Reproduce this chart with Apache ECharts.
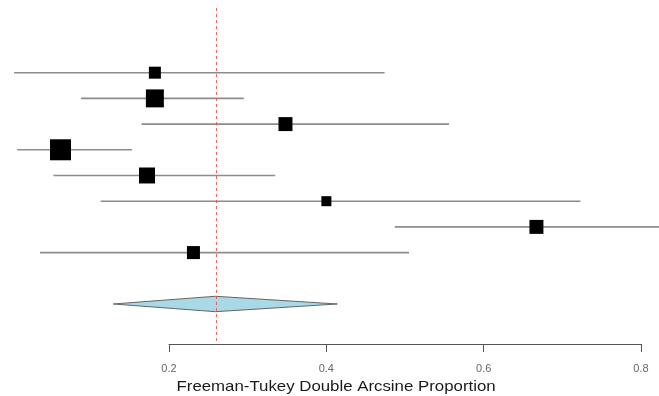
<!DOCTYPE html>
<html>
<head>
<meta charset="utf-8">
<script src="https://cdn.jsdelivr.net/npm/echarts@6/dist/echarts.min.js"></script>
<style>html,body{margin:0;padding:0;background:#fff;}#c{width:659px;height:396px;}</style>
</head>
<body>
<div id="c"></div>
<script>
// Study-level estimates (Freeman-Tukey double arcsine proportion)
const estimates = [0.182, 0.182, 0.348, 0.062, 0.172, 0.400, 0.667, 0.231];
const lowerCI   = [0.003, 0.088, 0.165, 0.007, 0.053, 0.113, 0.487, 0.036];
const upperCI   = [0.474, 0.295, 0.556, 0.153, 0.335, 0.723, 0.860, 0.505];
const weights   = [7.9, 17.7, 10.7, 24.2, 14.0, 5.5, 10.7, 9.3];
// Pooled estimate
const pooled = [0.259];
const pooledLower = [0.129];
const pooledUpper = [0.414];
const tickValues = [0.2, 0.4, 0.6, 0.8];
const axisTitle = 'Freeman-Tukey Double Arcsine Proportion';

const rows = estimates.map((e, i) => i);
const diamondRow = estimates.length + 1;

const ciData = rows.map(i => [lowerCI[i], upperCI[i], i]);
const sqData = rows.map(i => ({ value: [estimates[i], i], symbolSize: Math.sqrt(weights[i]) * 4.27 }));
const diamondData = [[pooledLower[0], pooled[0], pooledUpper[0], diamondRow]];

const chart = echarts.init(document.getElementById('c'));
chart.setOption({
  animation: false,
  backgroundColor: '#fff',
  textStyle: { fontFamily: 'Liberation Sans, Arial, sans-serif' },
  graphic: [{
    type: 'text', left: 176.5, top: 379, scaleX: 1.16, silent: true,
    style: { text: axisTitle, fontSize: 14.5, fill: '#1a1a1a', fontFamily: 'Liberation Sans, Arial, sans-serif' }
  }],
  grid: [
    { left: 11.7, right: 0, top: 8, bottom: 52 },
    { left: 169, right: 18, top: 343, height: 1 }
  ],
  xAxis: [
    { gridIndex: 0, type: 'value', min: 0, max: 0.8228, show: false },
    { gridIndex: 1, type: 'value', min: 0.2, max: 0.8, interval: 0.2,
      axisLine: { show: true, lineStyle: { color: '#555', width: 1 } },
      axisTick: { show: true, length: 8, lineStyle: { color: '#555' } },
      axisLabel: { color: '#666', fontSize: 11, margin: 19, customValues: tickValues,
        formatter: v => String(Math.round(v * 10) / 10) },
      splitLine: { show: false } }
  ],
  yAxis: [
    { gridIndex: 0, type: 'value', inverse: true, min: -2.517, max: 10.557, show: false },
    { gridIndex: 1, type: 'value', show: false }
  ],
  series: [
    {
      type: 'custom', xAxisIndex: 0, yAxisIndex: 0, clip: true,
      data: ciData,
      renderItem: (params, api) => {
        const p1 = api.coord([api.value(0), api.value(2)]);
        const p2 = api.coord([api.value(1), api.value(2)]);
        return { type: 'line', shape: { x1: p1[0], y1: p1[1], x2: p2[0], y2: p2[1] },
          style: { stroke: '#8c8c8c', lineWidth: 1.6 } };
      },
      z: 2
    },
    {
      type: 'scatter', xAxisIndex: 0, yAxisIndex: 0,
      symbol: 'rect',
      itemStyle: { color: '#000', opacity: 1 },
      data: sqData, z: 3
    },
    {
      type: 'custom', xAxisIndex: 0, yAxisIndex: 0,
      data: diamondData,
      renderItem: (params, api) => {
        const r = api.value(3);
        const pl = api.coord([api.value(0), r]);
        const pt = api.coord([api.value(1), r - 0.3]);
        const pr = api.coord([api.value(2), r]);
        const pb = api.coord([api.value(1), r + 0.3]);
        return { type: 'polygon', shape: { points: [pl, pt, pr, pb] },
          style: { fill: '#a9d8e6', stroke: '#666', lineWidth: 1 } };
      },
      z: 2,
      markLine: {
        silent: true, symbol: 'none', label: { show: false },
        lineStyle: { color: '#e8504f', type: [3, 3], width: 1, opacity: 0.85 },
        data: [{ xAxis: pooled[0] }],
        z: 4
      }
    }
  ]
});
</script>
</body>
</html>
